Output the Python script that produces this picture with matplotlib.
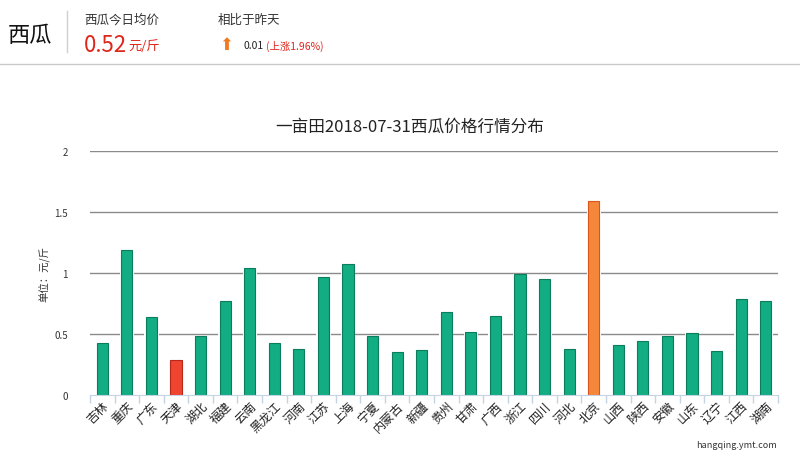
import matplotlib
matplotlib.use("Agg")
import matplotlib.pyplot as plt
import numpy as np

plt.rcParams['font.family'] = ['Noto Sans CJK SC', 'DejaVu Sans']

# data
provinces = ['吉林', '重庆', '广东', '天津', '湖北', '福建', '云南', '黑龙江', '河南', '江苏',
             '上海', '宁夏', '内蒙古', '新疆', '贵州', '甘肃', '广西', '浙江', '四川', '河北',
             '北京', '山西', '陕西', '安徽', '山东', '辽宁', '江西', '湖南']
prices = [0.43, 1.19, 0.64, 0.29, 0.48, 0.77, 1.04, 0.43, 0.38, 0.97,
          1.07, 0.48, 0.35, 0.37, 0.68, 0.52, 0.65, 0.99, 0.95, 0.38,
          1.59, 0.41, 0.44, 0.48, 0.51, 0.36, 0.79, 0.77]
yticks = [0, 0.5, 1, 1.5, 2]
ytick_labels = ['0', '0.5', '1', '1.5', '2']

green, green_edge = '#12ad82', '#0b7d5c'
red, red_edge = '#ee4430', '#b8281a'
orange, orange_edge = '#f5873a', '#d9531c'

fig = plt.figure(figsize=(8, 4.56), dpi=100)

# ---- header ----
fig.text(8/800, 1-35/456, '西瓜', fontsize=16, color='#111', va='center', ha='left')
fig.add_artist(plt.Line2D([67/800, 67/800], [1-12/456, 1-53/456], color='#d0d0d0', lw=1))
fig.text(84/800, 1-20/456, '西瓜今日均价', fontsize=9, color='#333', va='center')
fig.text(84/800, 1-45/456, '0.52', fontsize=16, color='#e0261b', va='center')
fig.text(128/800, 1-46/456, '元/斤', fontsize=9.5, color='#e0261b', va='center')
fig.text(218/800, 1-20/456, '相比于昨天', fontsize=9, color='#333', va='center')
fig.text(226/800, 1-45/456, '\u2b06', fontsize=12, color='#f07a22', va='center', ha='center',
         family='DejaVu Sans')
fig.text(244/800, 1-46/456, '0.01', fontsize=7.5, color='#222', va='center')
fig.text(266/800, 1-46/456, '(上涨1.96%)', fontsize=7.5, color='#e0261b', va='center')
fig.add_artist(plt.Line2D([0, 1], [1-65/456, 1-65/456], color='#c8c8c8', lw=1))

# ---- chart ----
ax = fig.add_axes([90/800, 1-396/456, 688/800, 244/456])
x = np.arange(len(provinces))
imax, imin = int(np.argmax(prices)), int(np.argmin(prices))
colors = [green] * len(prices)
edges = [green_edge] * len(prices)
colors[imax], edges[imax] = orange, orange_edge
colors[imin], edges[imin] = red, red_edge

ax.bar(x, prices, width=0.58, color='white', zorder=2)
ax.bar(x, prices, width=0.45, color=colors, edgecolor=edges, linewidth=0.8, zorder=3)

ax.set_xlim(-0.5, len(provinces) - 0.5)
ax.set_ylim(0, 2)
ax.set_yticks(yticks)
ax.set_yticklabels(ytick_labels, fontsize=7, color='#333')
ax.tick_params(axis='y', length=0, pad=16)
for v in yticks[1:]:
    ax.axhline(v, color='#8a8a8a', lw=1, zorder=1)

ax.set_xticks(x)
ax.set_xticklabels(provinces, rotation=45, ha='right', va='top', rotation_mode='anchor',
                   fontsize=8.8, color='#222')
ax.tick_params(axis='x', length=0, pad=3)
# boundary tick marks
ax.set_xticks(np.arange(len(provinces) + 1) - 0.5, minor=True)
ax.tick_params(axis='x', which='minor', length=6, color='#c5d3e2', width=1)

for s in ['top', 'right', 'left']:
    ax.spines[s].set_visible(False)
ax.spines['bottom'].set_color('#c5d3e2')
ax.spines['bottom'].set_zorder(4)

ax.set_ylabel('单位：元/斤', fontsize=7.5, color='#333', labelpad=3)
fig.text(410/800, 1-127/456, '一亩田2018-07-31西瓜价格行情分布', fontsize=12, color='#222',
         ha='center', va='center')
fig.text(777/800, 1-446/456, 'hangqing.ymt.com', fontsize=6.5, color='#333', ha='right',
         va='center')

fig.savefig('out.png', dpi=100)
